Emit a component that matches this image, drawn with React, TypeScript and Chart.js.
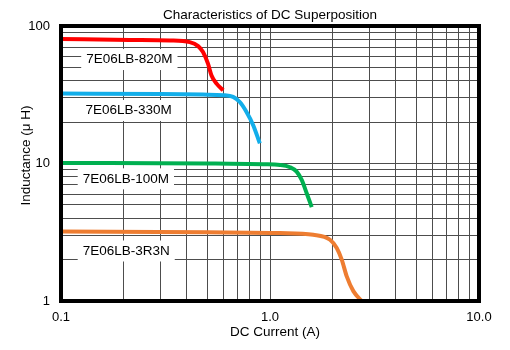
import React, { useEffect, useRef } from "react";
import { Chart, registerables } from "chart.js";

Chart.register(...registerables);

const chartTitle = "Characteristics of DC Superposition";
const xAxisTitle = "DC Current (A)";
const yAxisTitle = "Inductance (μ H)";

// grid lines (log decades with minor steps)
const xGridValues = [0.1, 0.2, 0.3, 0.4, 0.5, 0.6, 0.7, 0.8, 0.9, 1, 2, 3, 4, 5, 6, 7, 8, 9, 10];
const yGridValues = [1, 2, 3, 4, 5, 6, 7, 8, 9, 10, 20, 30, 40, 50, 60, 70, 80, 90, 100];
const xLabelValues = [0.1, 1, 10];
const xLabelTexts = ["0.1", "1.0", "10.0"];
const yLabelValues = [1, 10, 100];
const yLabelTexts = ["1", "10", "100"];

const seriesNames = ["7E06LB-820M", "7E06LB-330M", "7E06LB-100M", "7E06LB-3R3N"];

const current820M = [0.1, 0.213, 0.331, 0.413, 0.453, 0.478, 0.505, 0.525, 0.555, 0.597];
const inductance820M = [80.5, 79.2, 78.5, 76.3, 71.4, 64.6, 53.2, 43.7, 38.1, 34.1];

const current330M = [0.1, 0.3, 0.478, 0.597, 0.666, 0.717, 0.772, 0.831, 0.894];
const inductance330M = [32.3, 32.0, 31.7, 31.4, 30.5, 28.0, 23.7, 19.0, 14.0];

const current100M = [0.1, 0.5, 0.928, 1.116, 1.246, 1.341, 1.418, 1.498, 1.583];
const inductance100M = [10.1, 10.0, 9.87, 9.75, 9.39, 8.72, 7.59, 6.08, 4.82];

const current3R3N = [0.1, 0.5, 1.116, 1.611, 1.937, 2.086, 2.204, 2.329, 2.505, 2.8];
const inductance3R3N = [3.2, 3.16, 3.12, 3.03, 2.79, 2.43, 2.0, 1.51, 1.18, 0.97];

// series label anchors (data units: left edge current, centre inductance)
const labelCurrent = [0.132, 0.131, 0.127, 0.127];
const labelInductance = [57.5, 24.5, 7.8, 2.33];

const seriesColors = ["#ff0000", "#12aeea", "#00b050", "#ee7d31"];

const FONT = '"Liberation Sans", Arial, sans-serif';

const toPoints = (xs: number[], ys: number[]) => xs.map((x, i) => ({ x, y: ys[i] }));

const overlayPlugin = {
  id: "overlay",
  beforeDatasetsDraw(chart: any) {
    const ctx = chart.ctx;
    const xs = chart.scales.x;
    const ys = chart.scales.y;
    ctx.save();
    ctx.font = `13.5px ${FONT}`;
    ctx.textAlign = "left";
    ctx.textBaseline = "middle";
    seriesNames.forEach((name, i) => {
      const px = xs.getPixelForValue(labelCurrent[i]);
      const py = ys.getPixelForValue(labelInductance[i]);
      const w = ctx.measureText(name).width;
      ctx.fillStyle = "#ffffff";
      ctx.fillRect(px - 5, py - 10, w + 10, 21);
      ctx.fillStyle = "#000000";
      ctx.fillText(name, px, py + 0.5);
    });
    ctx.restore();
  },
  afterDatasetsDraw(chart: any) {
    const ctx = chart.ctx;
    const a = chart.chartArea;
    ctx.save();
    ctx.strokeStyle = "#000000";
    ctx.lineWidth = 4;
    ctx.strokeRect(a.left, a.top, a.right - a.left, a.bottom - a.top);
    ctx.restore();
  },
  afterDraw(chart: any) {
    const ctx = chart.ctx;
    const a = chart.chartArea;
    ctx.save();
    ctx.fillStyle = "#000000";
    ctx.textAlign = "center";
    ctx.textBaseline = "middle";
    ctx.font = `13.5px ${FONT}`;
    ctx.fillText(chartTitle, (a.left + a.right) / 2, 15);
    ctx.fillText(xAxisTitle, (a.left + a.right) / 2 + 5, 332);
    ctx.translate(26, (a.top + a.bottom) / 2 - 8);
    ctx.rotate(-Math.PI / 2);
    ctx.fillText(yAxisTitle, 0, 0);
    ctx.restore();
  },
};

export default function App() {
  const canvasRef = useRef<HTMLCanvasElement | null>(null);

  useEffect(() => {
    const canvas = canvasRef.current;
    if (!canvas) return;
    const datasets = [
      toPoints(current820M, inductance820M),
      toPoints(current330M, inductance330M),
      toPoints(current100M, inductance100M),
      toPoints(current3R3N, inductance3R3N),
    ].map((data, i) => ({
      label: seriesNames[i],
      data,
      borderColor: seriesColors[i],
      backgroundColor: seriesColors[i],
      borderWidth: 4,
      pointRadius: 0,
      cubicInterpolationMode: "monotone" as const,
      borderCapStyle: "butt" as const,
      borderJoinStyle: "round" as const,
    }));

    const chart = new Chart(canvas, {
      type: "line",
      data: { datasets },
      options: {
        animation: false,
        responsive: false,
        layout: { padding: { top: 26, right: 31, left: 0, bottom: 0 } },
        plugins: {
          legend: { display: false },
          title: { display: false },
          tooltip: { enabled: false },
        },
        scales: {
          x: {
            type: "logarithmic",
            min: 0.1,
            max: 10,
            afterBuildTicks: (scale: any) => {
              scale.ticks = xGridValues.map((v) => ({ value: v }));
            },
            afterFit: (scale: any) => {
              scale.height = 49;
            },
            grid: { color: "#4d4d4d", lineWidth: 1, drawTicks: false },
            border: { display: false },
            ticks: {
              autoSkip: false,
              maxRotation: 0,
              padding: 9,
              color: "#000000",
              font: { family: FONT, size: 13 },
              callback: (value: any) => {
                const i = xLabelValues.findIndex((v) => Math.abs(v - Number(value)) < 1e-9);
                return i >= 0 ? xLabelTexts[i] : "";
              },
            },
          },
          y: {
            type: "logarithmic",
            min: 1,
            max: 100,
            afterBuildTicks: (scale: any) => {
              scale.ticks = yGridValues.map((v) => ({ value: v }));
            },
            afterFit: (scale: any) => {
              scale.width = 61;
            },
            grid: { color: "#4d4d4d", lineWidth: 1, drawTicks: false },
            border: { display: false },
            ticks: {
              autoSkip: false,
              padding: 11,
              color: "#000000",
              font: { family: FONT, size: 13 },
              callback: (value: any) => {
                const i = yLabelValues.findIndex((v) => Math.abs(v - Number(value)) < 1e-9);
                return i >= 0 ? yLabelTexts[i] : "";
              },
            },
          },
        },
      },
      plugins: [overlayPlugin],
    });
    return () => chart.destroy();
  }, []);

  return (
    <div style={{ position: "fixed", left: 0, top: 0, width: 510, height: 350, background: "#fff" }}>
      <canvas ref={canvasRef} width={510} height={350} style={{ width: 510, height: 350 }} />
    </div>
  );
}
